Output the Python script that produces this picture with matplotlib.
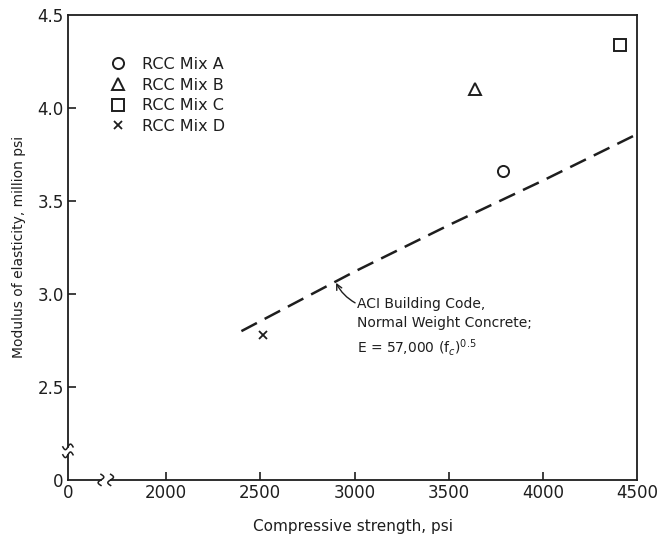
import numpy as np
import matplotlib.pyplot as plt

# RCC mixes: compressive strength (psi) and modulus of elasticity (million psi)
mix_labels = ['RCC Mix A', 'RCC Mix B', 'RCC Mix C', 'RCC Mix D']
mix_markers = ['o', '^', 's', 'x']
strength = [3790, 3640, 4410, 2515]
modulus = [3.66, 4.10, 4.34, 2.78]

# ACI curve
aci_strength = [2400, 3000, 3500, 4000, 4500]
aci_modulus = [2.80, 3.12, 3.37, 3.61, 3.86]

xticks = [2000, 2500, 3000, 3500, 4000, 4500]
yticks = [2.5, 3.0, 3.5, 4.0, 4.5]

# broken axes: where the origin sits on the plotted scale
x_origin = 1480
y_origin = 2.0

ink = '#1e1e1e'
plt.rcParams['font.family'] = 'DejaVu Sans'

fig = plt.figure(figsize=(6.66, 5.35), dpi=100)
ax = fig.add_axes([0.102, 0.103, 0.855, 0.869])

for lab, mk, x, y in zip(mix_labels, mix_markers, strength, modulus):
    if mk == 'x':
        ax.plot(x, y, marker='x', ms=6, mew=1.3, color=ink, ls='none', label=lab)
    else:
        ms = {'o': 8, '^': 8.5, 's': 8.5}[mk]
        ax.plot(x, y, marker=mk, ms=ms, mew=1.4, mfc='white', mec=ink, ls='none', label=lab)

ax.plot(aci_strength, aci_modulus, color=ink, lw=1.8, ls=(0, (7, 3.5)))

ax.annotate('', xy=(2902, 3.06), xytext=(3003, 2.952),
            arrowprops=dict(arrowstyle='->', color=ink, lw=1.0,
                            connectionstyle='arc3,rad=-0.15', shrinkA=0, shrinkB=0))
ax.text(3015, 2.985, 'ACI Building Code,\nNormal Weight Concrete;\nE = 57,000 (f$_c$)$^{0.5}$',
        fontsize=10, color=ink, va='top', ha='left', linespacing=1.45)

ax.set_xlim(x_origin, 4500)
ax.set_ylim(y_origin, 4.5)
ax.set_xticks([x_origin] + xticks)
ax.set_xticklabels(['0'] + [str(v) for v in xticks])
ax.set_yticks([y_origin] + yticks)
ax.set_yticklabels(['0'] + ['%.1f' % v for v in yticks])
ax.tick_params(direction='in', length=6, width=1.2, color=ink, labelcolor=ink,
               labelsize=12, pad=3)
for t in [ax.xaxis.get_major_ticks()[0], ax.xaxis.get_major_ticks()[-1],
          ax.yaxis.get_major_ticks()[0], ax.yaxis.get_major_ticks()[-1]]:
    t.tick1line.set_visible(False)

for side in ['top', 'right']:
    ax.spines[side].set_linewidth(1.3)
    ax.spines[side].set_color(ink)
ax.spines['left'].set_visible(False)
ax.spines['bottom'].set_visible(False)

# bottom and left axis lines with break marks
tr = ax.transAxes
xb1, xb2 = 0.058, 0.075
yb1, yb2 = 0.054, 0.071
ax.plot([0, xb1], [0, 0], color=ink, lw=1.3, transform=tr, clip_on=False)
ax.plot([xb2, 1], [0, 0], color=ink, lw=1.3, transform=tr, clip_on=False)
ax.plot([0, 0], [0, yb1], color=ink, lw=1.3, transform=tr, clip_on=False)
ax.plot([0, 0], [yb2, 1], color=ink, lw=1.3, transform=tr, clip_on=False)
s = np.linspace(-1, 1, 30)
for xb in [xb1, xb2]:
    ax.plot(xb + 0.005 * np.sin(np.pi * s), 0.012 * s, color=ink, lw=1.1,
            transform=tr, clip_on=False)
for yb in [yb1, yb2]:
    ax.plot(0.009 * s, yb + 0.006 * np.sin(np.pi * s), color=ink, lw=1.1,
            transform=tr, clip_on=False)

ax.legend(loc='upper left', bbox_to_anchor=(0.0738, 0.91), frameon=False,
          borderpad=0, borderaxespad=0, handlelength=1.0, handletextpad=1.0,
          labelspacing=0.36, fontsize=11.5, labelcolor=ink)

ax.set_xlabel('Compressive strength, psi', fontsize=11, color=ink, labelpad=12)
ax.set_ylabel('Modulus of elasticity, million psi', fontsize=10, color=ink, labelpad=8)

fig.savefig('out.png', dpi=100)
